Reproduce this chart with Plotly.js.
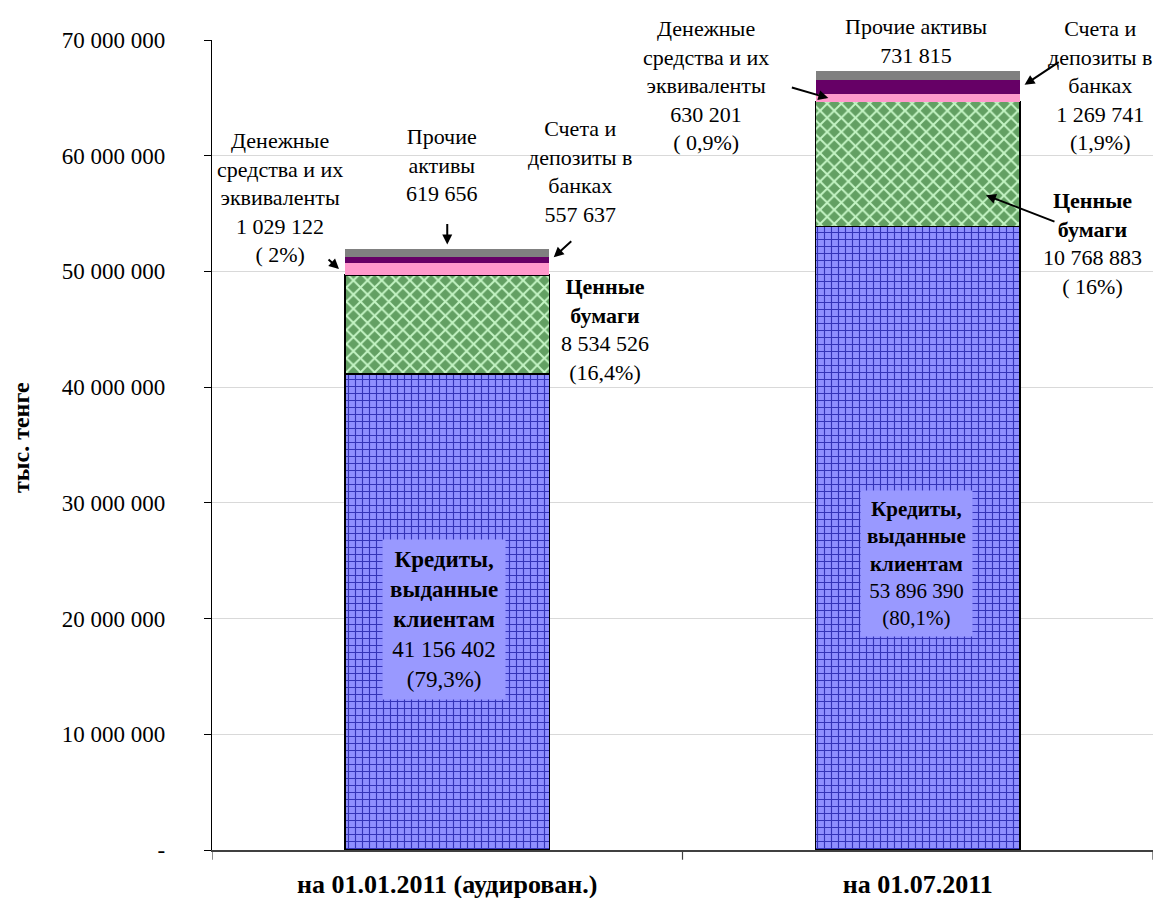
<!DOCTYPE html>
<html><head><meta charset="utf-8">
<script src="https://cdn.plot.ly/plotly-3.0.1.min.js"></script>
<style>html,body{margin:0;padding:0;background:#fff}#chart{width:1157px;height:898px}</style>
</head><body><div id="chart"></div>
<script>
const categories = ['на 01.01.2011 (аудирован.)', 'на 01.07.2011'];
const loans = [41156402, 53896390];
const securities = [8534526, 10768883];
const cash = [1029122, 630201];
const deposits = [557637, 1269741];
const other = [619656, 731815];
const loansPct = ['(79,3%)', '(80,1%)'];
const securitiesPct = ['(16,4%)', '( 16%)'];
const cashPct = ['( 2%)', '( 0,9%)'];
const depositsPct = ['', '(1,9%)'];
const yTickVals = [0, 10000000, 20000000, 30000000, 40000000, 50000000, 60000000, 70000000];
const yTickText = ['-', '10 000 000', '20 000 000', '30 000 000', '40 000 000', '50 000 000', '60 000 000', '70 000 000'];
const yTitle = 'тыс. тенге';

const fmt = v => String(v).replace(/\B(?=(\d{3})+(?!\d))/g, ' ');
const FONT = '"Liberation Serif", "Times New Roman", Times, serif';
const idx = [0, 1];

function bar(name, y, pattern, color, lw) {
  const m = {color: color, line: {color: '#000', width: lw}};
  if (pattern) m.pattern = pattern;
  return {type: 'bar', name: name, x: idx, y: y, marker: m, hoverinfo: 'skip'};
}
const traces = [
  bar('Кредиты', loans, {shape: '+', bgcolor: '#8f8fff', fgcolor: '#3434b8', size: 7, solidity: 0.3, fillmode: 'replace'}, '#8f8fff', 1.5),
  bar('Ценные бумаги', securities, {shape: 'x', bgcolor: '#63a063', fgcolor: '#c4f4c4', size: 10, solidity: 0.35, fillmode: 'replace'}, '#63a063', 1.5),
  bar('Денежные средства', cash, null, '#ff99cc', 0),
  bar('Счета и депозиты', deposits, null, '#660066', 0),
  bar('Прочие активы', other, null, '#808080', 0)
];

// paper helpers (plot area: x 212..1153, y 40..850)
const px = p => (p - 212) / 941;
const py = p => (850 - p) / 810;
function txt(text, x, y, extra, size) {
  return Object.assign({text: text, xref: 'paper', yref: 'paper', x: px(x), y: py(y), xanchor: 'center', yanchor: 'middle',
    showarrow: false, align: 'center', font: {family: FONT, size: size || 22, color: '#000'}}, extra || {});
}
function arrow(x, y, ax, ay, sd) {
  return {text: '', x: x, y: y, xref: 'x', yref: 'y', ax: ax, ay: ay, showarrow: true, arrowhead: 2, arrowsize: 1,
    arrowwidth: 2, arrowcolor: '#000', standoff: sd || 0};
}
const top1 = i => loans[i] + securities[i];
const annotations = [
  txt('Денежные<br>средства и их<br>эквиваленты<br>' + fmt(cash[0]) + '<br>' + cashPct[0], 280, 197),
  txt('Прочие<br>активы<br>' + fmt(other[0]), 442, 165),
  txt('Счета и<br>депозиты в<br>банках<br>' + fmt(deposits[0]), 580, 171),
  txt('<b>Ценные</b><br><b>бумаги</b><br>' + fmt(securities[0]) + '<br>' + securitiesPct[0], 605, 329),
  txt('<b>Кредиты,</b><br><b>выданные</b><br><b>клиентам</b><br>' + fmt(loans[0]) + '<br>' + loansPct[0], 444, 619, {bgcolor: '#9999ff', borderpad: 7}, 23),
  txt('Денежные<br>средства и их<br>эквиваленты<br>' + fmt(cash[1]) + '<br>' + cashPct[1], 706, 85),
  txt('Прочие активы<br>' + fmt(other[1]), 916, 41),
  txt('Счета и<br>депозиты в<br>банках<br>' + fmt(deposits[1]) + '<br>' + depositsPct[1], 1100, 85),
  txt('<b>Ценные</b><br><b>бумаги</b><br>' + fmt(securities[1]) + '<br>' + securitiesPct[1], 1092, 243),
  txt('<b>Кредиты,</b><br><b>выданные</b><br><b>клиентам</b><br>' + fmt(loans[1]) + '<br>' + loansPct[1], 916, 563, {bgcolor: '#9999ff', borderpad: 6}, 21),
  txt('<b>' + yTitle + '</b>', 21, 438, {textangle: -90}, 24),
  arrow(-0.23, top1(0) + cash[0] / 2, -12, -11, 0),
  arrow(0, top1(0) + cash[0] + deposits[0] + other[0], 0, -27, 5),
  arrow(0.22, top1(0) + cash[0] + deposits[0] / 2, 22, -20, 4),
  arrow(0.81, top1(1) + cash[1] / 2, -38, -11, 0),
  arrow(1.22, top1(1) + cash[1] + deposits[1] / 2, 39, -26, 4),
  arrow(1.145, loans[1] + securities[1] * 0.25, 70, 27, 0)
];

const layout = {
  width: 1157, height: 898,
  margin: {l: 212, r: 4, t: 40, b: 48},
  paper_bgcolor: '#fff', plot_bgcolor: '#fff',
  barmode: 'stack', bargap: 0.566, showlegend: false,
  font: {family: FONT, size: 21, color: '#000'},
  xaxis: {
    type: 'linear', range: [-0.5, 1.5], tickvals: idx, ticktext: categories,
    tickfont: {family: FONT, size: 26, color: '#000', weight: 'bold'},
    showline: true, linecolor: '#404040', linewidth: 1.5, showgrid: false, zeroline: false,
    ticks: '', ticklabelstandoff: 10
  },
  yaxis: {
    range: [0, 70000000], tickvals: yTickVals, ticktext: yTickText,
    tickfont: {family: FONT, size: 23, color: '#000'},
    showline: true, linecolor: '#000', linewidth: 1.2, ticks: 'outside', ticklen: 7, tickcolor: '#000',
    showgrid: true, gridcolor: '#d9d9d9', gridwidth: 1.2, zeroline: false, ticklabelstandoff: 34
  },
  annotations: annotations,
  shapes: [0, 1, 2].map(k => ({type: 'line', xref: 'x', yref: 'paper', x0: k - 0.5, x1: k - 0.5, y0: 0, y1: -0.012,
    line: {color: '#404040', width: 1.2}}))
};
Plotly.newPlot('chart', traces, layout, {displayModeBar: false, staticPlot: true});
</script></body></html>
